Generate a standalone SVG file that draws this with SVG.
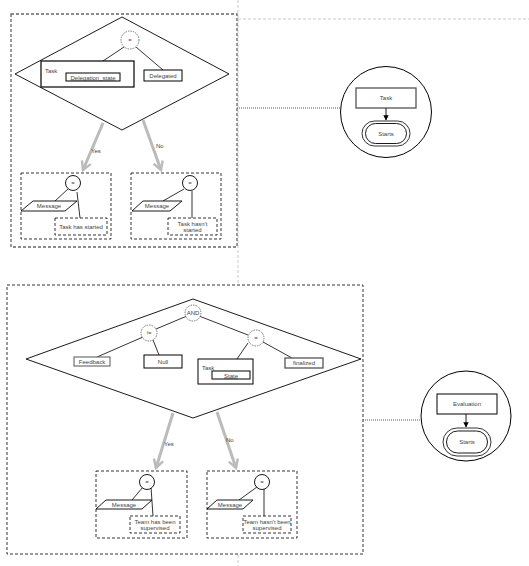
<svg xmlns="http://www.w3.org/2000/svg" width="529" height="566" viewBox="0 0 529 566">
<style>
text{font-family:"Liberation Sans",Arial,sans-serif;font-size:6px;fill:#444;}
.c{text-anchor:middle;}
.box{fill:#fff;stroke:#000;stroke-width:1;}
.gbox{fill:#fff;stroke:#555;stroke-width:1.3;}
.ln{stroke:#000;stroke-width:0.8;fill:none;}
.dsh{fill:#fff;stroke:#000;stroke-width:0.8;stroke-dasharray:3,2;}
.dcirc{fill:#fff;stroke:#555;stroke-width:0.8;stroke-dasharray:1.5,1;}
.garrow{stroke:#bbb;stroke-width:3;fill:none;marker-end:url(#ga);}
.faint{stroke:#bbb;stroke-width:0.8;stroke-dasharray:3,2;fill:none;}
.dot{stroke:#555;stroke-width:1;stroke-dasharray:1,1;fill:none;}
</style>
<defs>
<marker id="ga" viewBox="0 0 10 10" refX="8" refY="5" markerWidth="4" markerHeight="4" orient="auto" markerUnits="strokeWidth">
<path d="M1,1 L8,5 L1,9" fill="none" stroke="#bbb" stroke-width="2"/>
</marker>
<marker id="ba" viewBox="0 0 10 10" refX="9" refY="5" markerWidth="6" markerHeight="6" orient="auto">
<path d="M0,0 L10,5 L0,10 z" fill="#000"/>
</marker>
</defs>
<rect width="529" height="566" fill="#fff"/>
<g id="background-guides">
<path class="faint" d="M238,0 V566 M238,19 H529"/>
</g>

<g id="group1">
<rect x="11" y="14" width="226" height="233" fill="#fff" stroke="#666" stroke-width="1.3" stroke-dasharray="3,2"/>
</g>
<g id="diamond1">
<polygon points="15,74 122,17 229,74 122,130" fill="#fff" stroke="#000" stroke-width="0.9"/>
<line class="ln" x1="124" y1="47" x2="103" y2="61"/>
<line class="ln" x1="136" y1="47" x2="163" y2="70"/>
<circle class="dcirc" cx="130" cy="40" r="9"/>
<text class="c" x="130" y="42">=</text>
<rect class="box" x="41" y="61" width="93" height="26" style="stroke-width:1.2"/>
<text x="45" y="73">Task</text>
<rect class="box" x="66" y="73" width="54" height="8"/>
<text class="c" x="93" y="79.5" style="text-decoration:underline">Delegation_state</text>
<rect class="box" x="144" y="70" width="38" height="11"/>
<text class="c" x="163" y="77.5">Delegated</text>
</g>
<g id="sub1a">
<rect class="dsh" x="21" y="173" width="90" height="66"/>
<line class="ln" x1="68" y1="189" x2="55" y2="201"/>
<line class="ln" x1="77" y1="192" x2="80" y2="218"/>
<circle cx="73" cy="183" r="7.5" fill="#fff" stroke="#000" stroke-width="0.9"/>
<text class="c" x="73" y="185">=</text>
<polygon points="21,211 33,201 77,201 65,211" fill="#fff" stroke="#000" stroke-width="0.9"/>
<text class="c" x="49" y="208">Message</text>
<rect class="dsh" x="55" y="218" width="52" height="17"/>
<text class="c" x="81" y="228.5">Task has started</text>
</g>
<g id="sub1b">
<rect class="dsh" x="131" y="173" width="90" height="66"/>
<line class="ln" x1="184" y1="189" x2="163" y2="201"/>
<line class="ln" x1="192" y1="191" x2="192" y2="218"/>
<circle cx="190" cy="183" r="7.5" fill="#fff" stroke="#000" stroke-width="0.9"/>
<text class="c" x="190" y="185">=</text>
<polygon points="132,211 143,201 182,201 170,211" fill="#fff" stroke="#000" stroke-width="0.9"/>
<text class="c" x="157" y="208">Message</text>
<rect class="dsh" x="168" y="218" width="49" height="17"/>
<text class="c" x="192.5" y="225.5">Task hasn't</text>
<text class="c" x="192.5" y="232">started</text>
</g>
<g id="event1">
<circle cx="386" cy="112" r="45.5" fill="#fff" stroke="#000" stroke-width="1"/>
<rect class="gbox" x="356" y="88" width="60" height="20"/>
<text class="c" x="386" y="100">Task</text>
<rect x="362" y="121" width="48" height="25" rx="12.5" fill="#fff" stroke="#000" stroke-width="0.8"/>
<rect x="365.5" y="123.5" width="41" height="20" rx="10" fill="#fff" stroke="#000" stroke-width="0.9"/>
<text class="c" x="386" y="135.5">Starts</text>
</g>

<g id="group2">
<rect x="7" y="285" width="356" height="269" fill="#fff" stroke="#000" stroke-width="0.8" stroke-dasharray="3,2"/>
</g>
<g id="diamond2">
<polygon points="26,359 193,299 361,359 193,418" fill="#fff" stroke="#000" stroke-width="0.9"/>
<line class="ln" x1="187" y1="316" x2="156" y2="329"/>
<line class="ln" x1="199" y1="316" x2="248" y2="335"/>
<line class="ln" x1="143" y1="337" x2="97" y2="357"/>
<line class="ln" x1="153" y1="340" x2="159" y2="355"/>
<line class="ln" x1="248" y1="343" x2="237" y2="359"/>
<line class="ln" x1="263" y1="342" x2="292" y2="358"/>
<circle class="dcirc" cx="193" cy="313" r="8"/>
<text class="c" x="193" y="315">AND</text>
<circle class="dcirc" cx="149" cy="333" r="8"/>
<text class="c" x="149" y="335">!=</text>
<circle class="dcirc" cx="256" cy="338" r="8"/>
<text class="c" x="256" y="340">=</text>
<rect class="box" x="74" y="357" width="36" height="9" style="stroke:#555"/>
<text class="c" x="92" y="363.5">Feedback</text>
<rect class="box" x="144" y="355" width="38" height="13"/>
<text class="c" x="163" y="363.5">Null</text>
<rect class="box" x="198" y="359" width="55" height="25"/>
<text x="202" y="370">Task</text>
<rect class="box" x="212" y="371" width="38" height="8"/>
<text class="c" x="231" y="377.5" style="text-decoration:underline">State</text>
<rect class="gbox" x="285" y="358" width="38" height="10"/>
<text class="c" x="304" y="365">finalized</text>
</g>
<g id="sub2a">
<rect class="dsh" x="96" y="471" width="91" height="67"/>
<line class="ln" x1="143" y1="487" x2="132" y2="500"/>
<line class="ln" x1="151" y1="487" x2="153" y2="516"/>
<circle cx="147" cy="482" r="7.5" fill="#fff" stroke="#000" stroke-width="0.9"/>
<text class="c" x="147" y="484">=</text>
<polygon points="96,509 106,500 152,500 142,509" fill="#fff" stroke="#000" stroke-width="0.9"/>
<text class="c" x="124" y="507">Message</text>
<rect class="dsh" x="130" y="516" width="50" height="17"/>
<text class="c" x="155" y="523.5">Team has been</text>
<text class="c" x="155" y="530">supervised</text>
</g>
<g id="sub2b">
<rect class="dsh" x="207" y="471" width="90" height="67"/>
<line class="ln" x1="257" y1="487" x2="239" y2="500"/>
<line class="ln" x1="264" y1="489" x2="264" y2="516"/>
<circle cx="262" cy="482" r="7.5" fill="#fff" stroke="#000" stroke-width="0.9"/>
<text class="c" x="262" y="484">=</text>
<polygon points="207,509 217,500 253,500 243,509" fill="#fff" stroke="#000" stroke-width="0.9"/>
<text class="c" x="230" y="507">Message</text>
<rect class="dsh" x="243" y="516" width="48" height="17"/>
<text class="c" x="267" y="523.5">Team hasn't been</text>
<text class="c" x="267" y="530">supervised</text>
</g>
<g id="event2">
<circle cx="466" cy="416" r="45" fill="#fff" stroke="#000" stroke-width="1"/>
<rect class="box" x="437" y="394" width="60" height="20"/>
<text class="c" x="467" y="406">Evaluation</text>
<rect x="443" y="428" width="48" height="28" rx="14" fill="#fff" stroke="#000" stroke-width="0.8"/>
<rect x="446.5" y="431" width="41" height="22" rx="11" fill="#fff" stroke="#000" stroke-width="0.9"/>
<text class="c" x="467" y="444">Starts</text>
</g>

<g id="connectors">
<path class="garrow" d="M103,123 L83,170"/>
<path class="garrow" d="M143,120 L161,170"/>
<text x="91" y="153">Yes</text>
<text x="156" y="148">No</text>
<path class="garrow" d="M173,413 L156,468"/>
<path class="garrow" d="M217,412 L236,468"/>
<text x="164" y="446">Yes</text>
<text x="226" y="442">No</text>
<path class="dot" d="M237,108 H340"/>
<path class="dot" d="M363,420 H421"/>
<line x1="386" y1="108" x2="386" y2="120" stroke="#000" stroke-width="0.9" marker-end="url(#ba)"/>
<line x1="466" y1="414" x2="466" y2="427" stroke="#000" stroke-width="0.9" marker-end="url(#ba)"/>
</g>
</svg>
